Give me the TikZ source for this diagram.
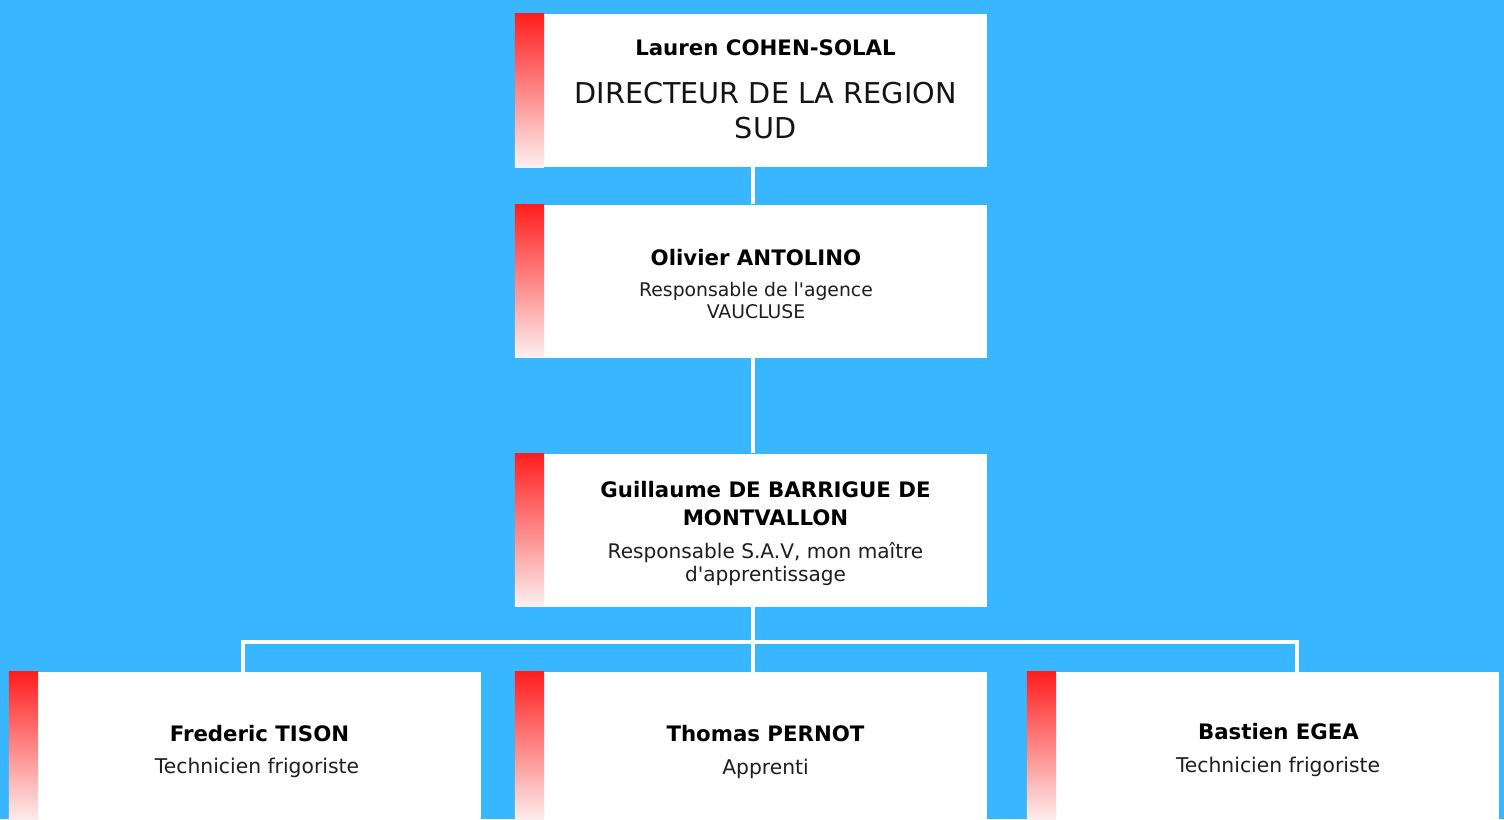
\documentclass[tikz,border=0pt]{standalone}
\usepackage{fontspec}
\newfontfamily\djv{DejaVu Sans}
\definecolor{bgblue}{RGB}{56,182,255}
\definecolor{stripetop}{RGB}{255,30,30}
\definecolor{stripebot}{RGB}{252,240,240}
\definecolor{roletext}{RGB}{30,30,30}
\tikzset{
  card/.style={fill=white, draw=none, inner sep=0pt, minimum width=472pt, minimum height=153pt},
  lowcard/.style={card, minimum height=150pt},
  conn/.style={draw=white, line width=4.6pt},
  stripe/.style={top color=stripetop, bottom color=stripebot},
  nm/.style={anchor=base, inner sep=0pt, text=black, font=\djv\bfseries\fontsize{21.3}{25}\selectfont},
  rl/.style={anchor=base, inner sep=0pt, text=roletext, font=\djv\fontsize{20.3}{24}\selectfont},
  rlsmall/.style={rl, font=\djv\fontsize{18.8}{22}\selectfont},
  rlbig/.style={rl, text=black!92, font=\djv\fontsize{28.7}{33}\selectfont},
}
\begin{document}
\begin{tikzpicture}[x=1pt,y=-1pt]
\fill[bgblue] (0,0) rectangle (1504,819);
\useasboundingbox (0,0) rectangle (1504,819);
\clip (0,0) rectangle (1504,819);

% boxes
\node[card] (b1) at (751,90.5) {};
\node[card] (b2) at (751,281) {};
\node[card] (b3) at (751,530) {};
\node[lowcard] (b4) at (245,747) {};
\node[lowcard] (b5) at (751,747) {};
\node[lowcard] (b6) at (1263,747) {};
\coordinate (bus) at (753,642);

% connectors
\begin{scope}[on background layer/.style={}]
\draw[conn] ([xshift=2pt]b1.south) -- ([xshift=2pt]b2.north);
\draw[conn] ([xshift=2pt]b2.south) -- ([xshift=2pt]b3.north);
\draw[conn] ([xshift=2pt]b3.south) -- ([xshift=2pt]b5.north);
\draw[conn] ([xshift=-2pt]b4.north) |- (bus);
\draw[conn] ([xshift=34pt]b6.north) |- (bus);
\end{scope}

% stripes
\foreach \b in {b1,b2,b3,b4,b5,b6}{
  \shade[stripe] (\b.north west) rectangle ([xshift=29.3pt]\b.south west);
}

% texts
\node[nm] (t1a) at (765.5,55) {Lauren COHEN-SOLAL};
\node[rlbig] (t1b) at (765.5,103.5) {DIRECTEUR DE LA REGION};
\node[rlbig] (t1c) at (765.5,138) {SUD};

\node[nm] (t2a) at (756,265) {Olivier ANTOLINO};
\node[rlsmall] (t2b) at (756,296) {Responsable de l'agence};
\node[rlsmall] (t2c) at (756,318.3) {VAUCLUSE};

\node[nm] (t3a) at (765.5,497) {Guillaume DE BARRIGUE DE};
\node[nm] (t3b) at (765.5,525) {MONTVALLON};
\node[rl, font=\djv\fontsize{20.1}{24}\selectfont] (t3c) at (765.5,558.5) {Responsable S.A.V, mon maître};
\node[rl, font=\djv\fontsize{20.1}{24}\selectfont] (t3d) at (765.5,581.5) {d'apprentissage};

\node[nm] (t4a) at (259.5,741) {Frederic TISON};
\node[rl] (t4b) at (257,773.5) {Technicien frigoriste};

\node[nm] (t5a) at (765.5,741) {Thomas PERNOT};
\node[rl] (t5b) at (765.5,774) {Apprenti};

\node[nm] (t6a) at (1278.5,739.5) {Bastien EGEA};
\node[rl] (t6b) at (1278,772) {Technicien frigoriste};
\end{tikzpicture}
\end{document}
